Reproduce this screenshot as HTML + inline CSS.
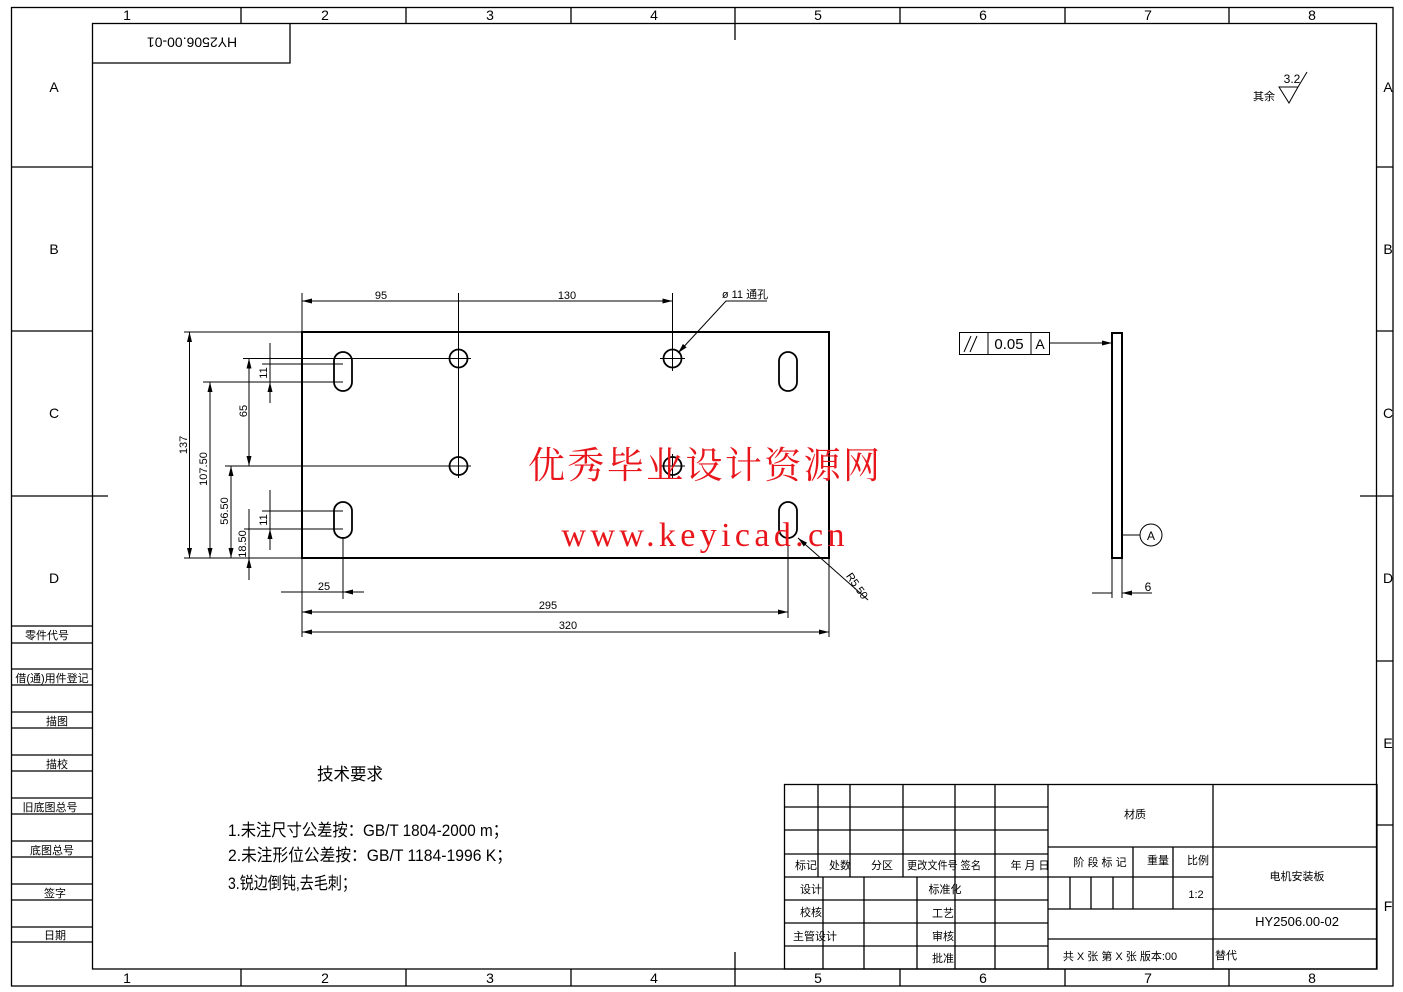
<!DOCTYPE html>
<html><head><meta charset="utf-8"><style>
html,body{margin:0;padding:0;background:#fff;}
svg{display:block;}
text{font-family:"Liberation Sans","Noto Sans CJK SC",sans-serif;fill:#000;}
.c{text-anchor:middle;}
</style></head><body>
<svg width="1403" height="992" viewBox="0 0 1403 992" xmlns="http://www.w3.org/2000/svg">
<defs>
<marker id="a" viewBox="0 0 10 6" refX="10" refY="3" markerWidth="10" markerHeight="6" markerUnits="userSpaceOnUse" orient="auto-start-reverse"><path d="M0,0.5 L10,3 L0,5.5z" fill="#000"/></marker>
</defs>
<g stroke="#000" stroke-width="1.3" fill="none">
<rect x="11.5" y="7.5" width="1381.5" height="978.5"/>
<rect x="92.5" y="23.5" width="1284" height="945.5"/>
<!-- top/bottom band separators -->
<path d="M241 7V23M406 7V23M571 7V23M735 7V40M900 7V23M1065 7V23M1229 7V23"/>
<path d="M241 969V986M406 969V986M571 969V986M735 952V986M900 969V986M1065 969V986M1229 969V986"/>
<!-- left band -->
<path d="M12 167H92M12 331H92M12 496H108"/>
<path d="M12 626H92M12 643H92M12 669H92M12 685H92M12 712H92M12 728H92M12 755H92M12 771H92M12 798H92M12 814H92M12 841H92M12 857H92M12 884H92M12 900H92M12 927H92M12 942H92"/>
<!-- right band -->
<path d="M1377 167H1393M1377 331H1393M1360 496H1393M1377 661H1393M1377 825H1393"/>
<!-- top-left box -->
<path d="M92 63H290V23"/>
<!-- title block -->
<rect x="784.5" y="784.5" width="592.5" height="184.5"/>
<path d="M784 807H1048M784 830H1048M784 854H1048M784 877H1048M784 900H1048M784 923H1048M784 946H1048"/>
<path d="M818 784V877M850 784V877M903 784V877M955 784V877M995 784V877M1048 784V969"/>
<path d="M823 877V969M864 877V969M917 877V969M955 877V969M995 877V969"/>
<path d="M1048 847H1377M1048 877H1213M1048 909H1377M1048 939H1377M1213 784V969"/>
<path d="M1070 877V909M1091 877V909M1113 877V909M1133 847V909M1173 847V909"/>
</g>
<!-- grid labels -->
<g font-size="14" class="c">
<text x="127" y="20" class="c">1</text><text x="325" y="20" class="c">2</text><text x="490" y="20" class="c">3</text><text x="654" y="20" class="c">4</text><text x="818" y="20" class="c">5</text><text x="983" y="20" class="c">6</text><text x="1148" y="20" class="c">7</text><text x="1312" y="20" class="c">8</text>
<text x="127" y="983" class="c">1</text><text x="325" y="983" class="c">2</text><text x="490" y="983" class="c">3</text><text x="654" y="983" class="c">4</text><text x="818" y="983" class="c">5</text><text x="983" y="983" class="c">6</text><text x="1148" y="983" class="c">7</text><text x="1312" y="983" class="c">8</text>
<text x="54" y="92" class="c">A</text><text x="54" y="254" class="c">B</text><text x="54" y="418" class="c">C</text><text x="54" y="583" class="c">D</text>
<text x="1388" y="92" class="c">A</text><text x="1388" y="254" class="c">B</text><text x="1388" y="418" class="c">C</text><text x="1388" y="583" class="c">D</text><text x="1388" y="748" class="c">E</text><text x="1388" y="911" class="c">F</text>
</g>
<text x="192" y="41" font-size="14" class="c" transform="rotate(180 192 41)" dominant-baseline="middle">HY2506.00-01</text>
<!-- left column labels -->
<g font-size="11">
<text x="47" y="639" class="c">零件代号</text>
<text x="52" y="682" class="c">借(通)用件登记</text>
<text x="57" y="725" class="c">描图</text>
<text x="57" y="768" class="c">描校</text>
<text x="50" y="811" class="c">旧底图总号</text>
<text x="52" y="854" class="c">底图总号</text>
<text x="55" y="897" class="c">签字</text>
<text x="55" y="939" class="c">日期</text>
</g>
<!-- surface finish -->
<text x="1264" y="100" font-size="11" class="c">其余</text>
<text x="1292" y="83" font-size="12" class="c">3.2</text>
<path d="M1279 87H1298L1289 103Z M1298 87L1307 72" stroke="#000" fill="none" stroke-width="1"/>
<!-- main plate -->
<g stroke="#000" fill="none">
<rect x="302" y="332" width="527" height="226" stroke-width="2"/>
<g stroke-width="1.8">
<circle cx="458.5" cy="358.5" r="9"/><circle cx="458.5" cy="466" r="9"/>
<circle cx="672.5" cy="358.5" r="9"/><circle cx="672.5" cy="466" r="9"/>
<rect x="334" y="352" width="18" height="39" rx="9"/>
<rect x="334" y="502" width="18" height="36" rx="9"/>
<rect x="779" y="352" width="18" height="39" rx="9"/>
<rect x="779" y="502" width="18" height="36" rx="9"/>
</g>
<g stroke-width="1">
<path d="M446 358.5H471M458.5 346V371M446 466H471M458.5 454V478M660 358.5H685M672.5 346V371M660 466H685M672.5 454V478"/>
<!-- extension lines -->
<path d="M302 293V332M458.5 293V476M672.5 293V350"/>
<path d="M184 332H302M184 558H302"/>
<path d="M243 358.5H458M203 382H343M262 364H343M225 466H458M262 511H343M244 529H343"/>
<path d="M302 558V600M343 537V599M788 537V618M302 600V637M829 558V637"/>
<!-- dims -->
<path d="M302 301H458.5M458.5 301H672.5" marker-start="url(#a)" marker-end="url(#a)"/>
<path d="M189.5 332V558" marker-start="url(#a)" marker-end="url(#a)"/>
<path d="M210 382V558" marker-start="url(#a)" marker-end="url(#a)"/>
<path d="M231 466V558" marker-start="url(#a)" marker-end="url(#a)"/>
<path d="M249 358.5V466" marker-start="url(#a)" marker-end="url(#a)"/>
<path d="M270 343V364M270 403V382" marker-end="url(#a)"/>
<path d="M270 364V382"/>
<path d="M270 490V511M270 550V529" marker-end="url(#a)"/>
<path d="M270 511V529"/>
<path d="M249 509V529M249 580V558" marker-end="url(#a)"/>
<path d="M249 529V558"/>
<path d="M281 592H302M364 592H343" marker-end="url(#a)"/>
<path d="M302 592H343"/>
<path d="M302 612H788" marker-start="url(#a)" marker-end="url(#a)"/>
<path d="M302 632H829" marker-start="url(#a)" marker-end="url(#a)"/>
<path d="M767 301H726L678 353" marker-end="url(#a)"/>
<path d="M868 600L798 538" marker-end="url(#a)"/>
</g>
</g>
<g font-size="11">
<text x="381" y="299" class="c">95</text>
<text x="567" y="299" class="c">130</text>
<text x="745" y="298" class="c">ø 11 通孔</text>
<text x="324" y="590" class="c">25</text>
<text x="548" y="609" class="c">295</text>
<text x="568" y="629" class="c">320</text>
<text class="c" transform="translate(187 445) rotate(-90)">137</text>
<text class="c" transform="translate(207 469) rotate(-90)">107.50</text>
<text class="c" transform="translate(228 511) rotate(-90)">56.50</text>
<text class="c" transform="translate(247 411) rotate(-90)">65</text>
<text class="c" transform="translate(267 373) rotate(-90)">11</text>
<text class="c" transform="translate(267 520) rotate(-90)">11</text>
<text class="c" transform="translate(246 544) rotate(-90)">18.50</text>
<text class="c" transform="translate(854 588) rotate(55)">R5.50</text>
</g>
<!-- side view -->
<g stroke="#000" fill="none">
<rect x="1112" y="333" width="10" height="225" stroke-width="2"/>
<g stroke-width="1">
<path d="M1112 558V598M1122 558V598"/>
<path d="M1092 593H1112M1142 593H1122" marker-end="url(#a)"/>
<path d="M1142 593H1152"/>
<rect x="959.5" y="332.5" width="90" height="22"/>
<path d="M988 332V354M1031 332V354"/>
<path d="M1049 343H1112" marker-end="url(#a)"/>
<circle cx="1151" cy="535" r="11"/>
<path d="M1122 535H1140"/>
<path d="M964 352L971 336M970 352L977 336"/>
</g>
</g>
<text x="1009" y="349" font-size="15" class="c">0.05</text>
<text x="1040" y="349" font-size="14" class="c">A</text>
<text x="1151" y="540" font-size="12" class="c">A</text>
<text x="1148" y="591" font-size="12" class="c">6</text>
<!-- watermark -->
<text x="704" y="478" font-size="37" class="c" style="fill:#e8151b;font-family:'Noto Serif CJK SC','Noto Sans CJK SC',serif" textLength="352">优秀毕业设计资源网</text>
<text x="703" y="546" font-size="34" class="c" style="fill:#e8151b;font-family:'Liberation Serif',serif" textLength="283">www.keyicad.cn</text>
<!-- tech requirements -->
<text x="317" y="780" font-size="17" textLength="66" lengthAdjust="spacingAndGlyphs">技术要求</text>
<text x="228" y="836" font-size="17" textLength="280" lengthAdjust="spacingAndGlyphs">1.未注尺寸公差按：GB/T 1804-2000 m；</text>
<text x="228" y="861" font-size="17" textLength="284" lengthAdjust="spacingAndGlyphs">2.未注形位公差按：GB/T 1184-1996 K；</text>
<text x="228" y="889" font-size="17" textLength="128" lengthAdjust="spacingAndGlyphs">3.锐边倒钝,去毛刺；</text>
<!-- title block text -->
<g font-size="11">
<text x="806" y="869" class="c">标记</text>
<text x="840" y="869" class="c">处数</text>
<text x="882" y="869" class="c">分区</text>
<text x="944" y="869" class="c" textLength="74" lengthAdjust="spacingAndGlyphs">更改文件号 签名</text>
<text x="1030" y="869" class="c">年 月 日</text>
<text x="1135" y="818" class="c">材质</text>
<text x="1100" y="866" class="c">阶 段 标 记</text>
<text x="1158" y="864" class="c">重量</text>
<text x="1198" y="864" class="c">比例</text>
<text x="1196" y="898" class="c">1:2</text>
<text x="1297" y="880" class="c">电机安装板</text>
<text x="1297" y="926" class="c" font-size="13">HY2506.00-02</text>
<text x="811" y="893" class="c">设计</text>
<text x="811" y="916" class="c">校核</text>
<text x="815" y="940" class="c">主管设计</text>
<text x="945" y="893" class="c">标准化</text>
<text x="943" y="917" class="c">工艺</text>
<text x="943" y="940" class="c">审核</text>
<text x="943" y="962" class="c">批准</text>
<text x="1120" y="960" class="c">共 X 张  第 X 张  版本:00</text>
<text x="1226" y="959" class="c">替代</text>
</g>
</svg>
</body></html>
